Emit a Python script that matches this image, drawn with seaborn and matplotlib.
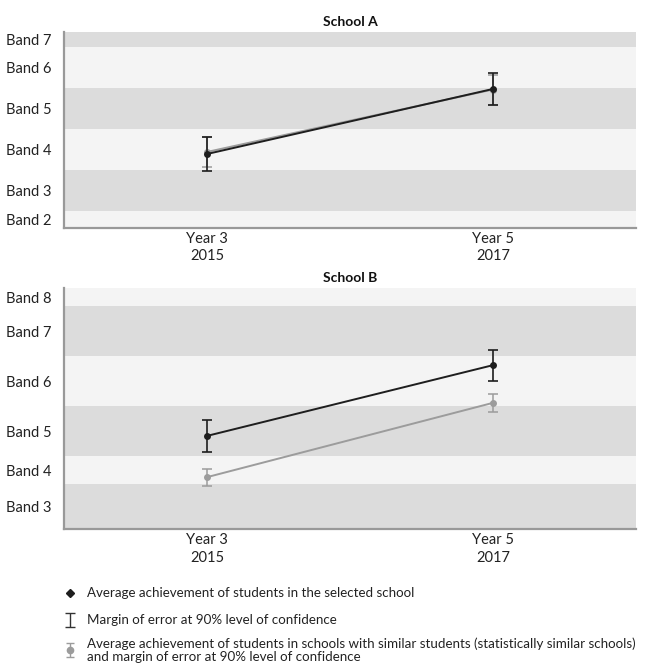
import numpy as np
import pandas as pd
import matplotlib
matplotlib.use('Agg')
import matplotlib.pyplot as plt
import seaborn as sns

# ---------- dados ----------
anos = ['Year 3\n2015', 'Year 5\n2017']

# School A (escala de pontuação)
a_bandas = [2, 3, 4, 5, 6, 7]
a_limites = [300.4, 322, 374, 426, 478, 530, 549]
a_escola = [394.2, 476.7]
a_escola_err = [21.5, 20.0]
a_similar = [396.8, 476.0]
a_similar_err = [19.0, 19.0]

# School B
b_bandas = [3, 4, 5, 6, 7, 8]
b_limites = [350, 397, 426, 478, 530, 582, 601]
b_escola = [447.1, 520.7]
b_escola_err = [16.8, 16.0]
b_similar = [404.2, 481.5]
b_similar_err = [9.0, 9.2]

legenda = [
    'Average achievement of students in the selected school',
    'Margin of error at 90% level of confidence',
    'Average achievement of students in schools with similar students (statistically similar schools)\nand margin of error at 90% level of confidence',
]

# ---------- estilo ----------
sns.set_style('white')
plt.rcParams['font.family'] = ['Lato', 'DejaVu Sans']

cor_escura = '#dcdcdc'
cor_clara = '#f4f4f4'
cor_preto = '#1e1e1e'
cor_cinza = '#9c9c9c'
cor_eixo = '#999999'

fig = plt.figure(figsize=(6.46, 6.66), dpi=100)
ax_a = fig.add_axes([0.099, 0.6577, 0.8854, 0.2943])
ax_b = fig.add_axes([0.099, 0.2053, 0.8854, 0.3623])


def painel(ax, titulo, bandas, limites, escola, escola_err, similar, similar_err):
    # faixas alternadas: bandas ímpares escuras
    n = len(bandas)
    for i, b in enumerate(bandas):
        cor = cor_escura if b % 2 == 1 else cor_clara
        ax.axhspan(limites[i], limites[i + 1], color=cor, lw=0, zorder=0)

    df = pd.DataFrame({
        'x': [0, 1, 0, 1],
        'valor': similar + escola,
        'serie': ['similares'] * 2 + ['escola'] * 2,
    })
    sns.lineplot(data=df, x='x', y='valor', hue='serie',
                 hue_order=['similares', 'escola'],
                 palette={'similares': cor_cinza, 'escola': cor_preto},
                 marker='o', markersize=5, markeredgewidth=0,
                 linewidth=1.4, legend=False, ax=ax, zorder=3)
    ax.errorbar([0, 1], similar, yerr=similar_err, fmt='none', ecolor=cor_cinza,
                elinewidth=1.1, capsize=3.5, capthick=1.1, zorder=2)
    ax.errorbar([0, 1], escola, yerr=escola_err, fmt='none', ecolor=cor_preto,
                elinewidth=1.2, capsize=3.5, capthick=1.2, zorder=4)

    ax.set_xlim(-0.5, 1.5)
    ax.set_ylim(limites[0], limites[-1])
    centros = [(limites[i] + limites[i + 1]) / 2 for i in range(n)]
    ax.set_yticks(centros)
    ax.set_yticklabels([f'Band {b}' for b in bandas], fontsize=10.5, color='#222222')
    ax.set_xticks([0, 1])
    ax.set_xticklabels(anos, fontsize=10.5, color='#222222', linespacing=1.3)
    ax.tick_params(axis='both', length=0)
    ax.tick_params(axis='y', pad=9)
    ax.tick_params(axis='x', pad=3)
    ax.set_xlabel('')
    ax.set_ylabel('')
    for lado in ['top', 'right']:
        ax.spines[lado].set_visible(False)
    for lado in ['left', 'bottom']:
        ax.spines[lado].set_color(cor_eixo)
        ax.spines[lado].set_linewidth(1.6)
    ax.set_title(titulo, fontsize=10, fontweight='bold', pad=4, color='#111111')


painel(ax_a, 'School A', a_bandas, a_limites, a_escola, a_escola_err,
       a_similar, a_similar_err)
painel(ax_b, 'School B', b_bandas, b_limites, b_escola, b_escola_err,
       b_similar, b_similar_err)

# ---------- legenda ----------
lax = fig.add_axes([0, 0, 1, 82 / 666])
lax.set_xlim(0, 646)
lax.set_ylim(666, 584)
lax.axis('off')

lax.plot([70], [593], marker='D', markersize=4, color=cor_preto, ls='none')
lax.errorbar([70], [620], yerr=[[7], [7]], fmt='none', ecolor='#333333',
             elinewidth=1.0, capsize=3.5, capthick=1.0)
lax.errorbar([70], [650], yerr=[[7], [7]], fmt='o', color=cor_cinza, ecolor=cor_cinza,
             markersize=4.5, elinewidth=1.0, capsize=3.0, capthick=1.0)

lax.text(87, 593, legenda[0], fontsize=9.6, va='center', ha='left', color='#222222')
lax.text(87, 620, legenda[1], fontsize=9.6, va='center', ha='left', color='#222222')
lax.text(87, 650, legenda[2], fontsize=9.6, va='center', ha='left', color='#222222',
         linespacing=1.12)

fig.savefig('out.png', dpi=100)
